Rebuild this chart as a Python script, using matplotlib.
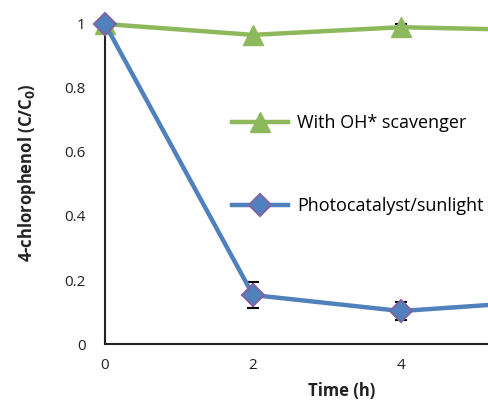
import numpy as np
import matplotlib.pyplot as plt
from matplotlib.lines import Line2D

plt.rcParams['font.family'] = ['Open Sans', 'DejaVu Sans']

time_h = [0, 2, 4, 6]
scavenger = [1.0, 0.966, 0.99, 0.98]
scavenger_err = [0.0, 0.0, 0.01, 0.0]
photo = [1.0, 0.153, 0.103, 0.135]
photo_err = [0.0, 0.04, 0.028, 0.0]

green = '#8DB85C'
blue = '#4F81BD'
purple = '#8064A2'

fig = plt.figure(figsize=(4.88, 4.03), dpi=100)
ax = fig.add_axes([105 / 488, 59 / 403, 444 / 488, 320 / 403])

ax.errorbar(time_h, scavenger, yerr=scavenger_err, color=green, lw=3.2,
            marker='^', ms=15, mfc=green, mec=green, ecolor='black',
            elinewidth=1.2, capsize=4, capthick=1.5, clip_on=False, zorder=3)
ax.errorbar(time_h, photo, yerr=photo_err, color=blue, lw=3.2,
            marker='D', ms=11, mfc=blue, mec=purple, mew=1.5,
            ecolor='black', elinewidth=1.2, capsize=4, capthick=1.5,
            clip_on=False, zorder=4)

ax.set_xlim(0, 6)
ax.set_ylim(0, 1)
ax.set_xticks([0, 2, 4])
ax.set_yticks([0, 0.2, 0.4, 0.6, 0.8, 1])
ax.set_yticklabels(['0', '0.2', '0.4', '0.6', '0.8', '1'])
ax.tick_params(length=0, labelsize=11, colors='#222222', pad=10)
ax.tick_params(axis='y', pad=14)

for s in ['top', 'right']:
    ax.spines[s].set_visible(False)
for s in ['left', 'bottom']:
    ax.spines[s].set_linewidth(1.5)
    ax.spines[s].set_color('#222222')

fig.text(342 / 488, 1 - 391 / 403, 'Time (h)', fontsize=12, fontweight='bold',
         ha='center', va='center', color='#222222')
ax.set_ylabel(r'4-chlorophenol (C/C$_\mathbf{0}$)', fontsize=12,
              fontweight='bold', color='#222222')
ax.yaxis.set_label_coords(-0.152, 0.534)

handles = [
    Line2D([], [], color=green, lw=3.2, marker='^', ms=15, mfc=green, mec=green),
    Line2D([], [], color=blue, lw=3.2, marker='D', ms=11, mfc=blue, mec=purple, mew=1.5),
]
labels = ['With OH* scavenger', 'Photocatalyst/sunlight']
ax.legend(handles, labels, loc='upper left', bbox_to_anchor=(127 / 444, (344 - 114) / 320),
          frameon=False, fontsize=13, labelspacing=3.6, handlelength=3.1,
          handletextpad=0.5, borderaxespad=0, borderpad=0)

fig.savefig('out.png', dpi=100)
